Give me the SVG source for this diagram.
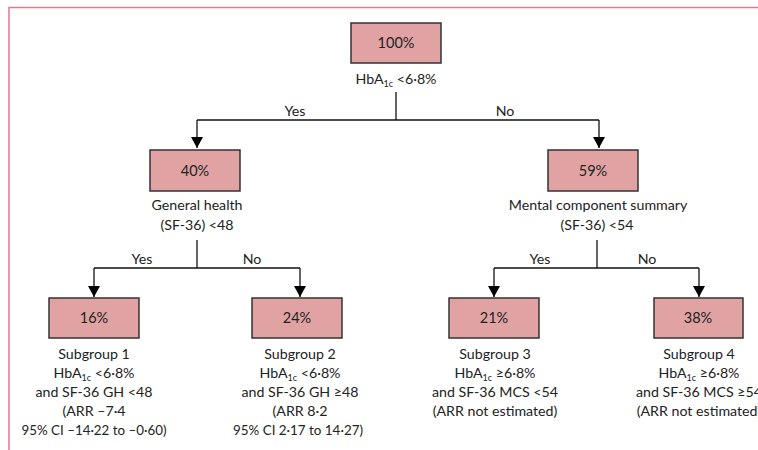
<svg xmlns="http://www.w3.org/2000/svg" width="758" height="450" viewBox="0 0 758 450">
<style>
text{font-family:Lato,"Open Sans","Liberation Sans",sans-serif;font-size:14.2px;fill:#222;text-anchor:middle}
.box{fill:#e0a2a2;stroke:#333;stroke-width:1.5}
.pct{font-size:14.5px}
.sub{font-size:9px}
.conn{fill:none;stroke:#111;stroke-width:1.3}
.frame{fill:none;stroke:#e07a8c;stroke-width:1.5}
</style>
<defs>
<marker id="ah" viewBox="0 0 11 12" refX="11" refY="6" markerWidth="11" markerHeight="12" markerUnits="userSpaceOnUse" orient="auto">
<path d="M0 0 L11 6 L0 12 Z" fill="#000"/>
</marker>
</defs>
<rect width="758" height="450" fill="#fff"/>
<path class="frame" d="M9 450 V7.5 H758"/>
<g id="connectors">
<path class="conn" d="M396 92 V120"/>
<path class="conn" d="M197 120 H599"/>
<path class="conn" d="M197 120 V148" marker-end="url(#ah)"/>
<path class="conn" d="M599 120 V148" marker-end="url(#ah)"/>
<path class="conn" d="M197 240 V268"/>
<path class="conn" d="M94 268 H300"/>
<path class="conn" d="M94 268 V297" marker-end="url(#ah)"/>
<path class="conn" d="M300 268 V297" marker-end="url(#ah)"/>
<path class="conn" d="M597 240 V268"/>
<path class="conn" d="M494 268 H699"/>
<path class="conn" d="M494 268 V297" marker-end="url(#ah)"/>
<path class="conn" d="M699 268 V297" marker-end="url(#ah)"/>
<text x="295" y="116">Yes</text>
<text x="505" y="116">No</text>
<text x="142" y="264">Yes</text>
<text x="252" y="264">No</text>
<text x="540" y="264">Yes</text>
<text x="647" y="264">No</text>
</g>
<g id="root">
<rect class="box" x="351" y="23" width="90" height="40"/>
<text class="pct" x="396" y="48">100%</text>
<text x="396" y="84">HbA<tspan class="sub" dy="2.5">1c</tspan><tspan dy="-2.5"> &lt;6·8%</tspan></text>
</g>
<g id="n40">
<rect class="box" x="150" y="150" width="90" height="41"/>
<text class="pct" x="195" y="176">40%</text>
<text x="197" y="210">General health</text>
<text x="197" y="230">(SF-36) &lt;48</text>
</g>
<g id="n59">
<rect class="box" x="548" y="150" width="90" height="41"/>
<text class="pct" x="593" y="176">59%</text>
<text x="598" y="210">Mental component summary</text>
<text x="597" y="230">(SF-36) &lt;54</text>
</g>
<g id="sg1">
<rect class="box" x="49" y="298" width="90" height="40"/>
<text class="pct" x="94" y="323">16%</text>
<text x="94" y="359">Subgroup 1</text>
<text x="94" y="378">HbA<tspan class="sub" dy="2.5">1c</tspan><tspan dy="-2.5"> &lt;6·8%</tspan></text>
<text x="94" y="397">and SF-36 GH &lt;48</text>
<text x="94" y="416">(ARR –7·4</text>
<text x="94" y="435" textLength="145" lengthAdjust="spacingAndGlyphs">95% CI –14·22 to –0·60)</text>
</g>
<g id="sg2">
<rect class="box" x="252" y="298" width="90" height="40"/>
<text class="pct" x="297" y="323">24%</text>
<text x="300" y="359">Subgroup 2</text>
<text x="300" y="378">HbA<tspan class="sub" dy="2.5">1c</tspan><tspan dy="-2.5"> &lt;6·8%</tspan></text>
<text x="300" y="397">and SF-36 GH ≥48</text>
<text x="300" y="416">(ARR 8·2</text>
<text x="298" y="435" textLength="130" lengthAdjust="spacingAndGlyphs">95% CI 2·17 to 14·27)</text>
</g>
<g id="sg3">
<rect class="box" x="449" y="298" width="90" height="40"/>
<text class="pct" x="494" y="323">21%</text>
<text x="495" y="359">Subgroup 3</text>
<text x="495" y="378">HbA<tspan class="sub" dy="2.5">1c</tspan><tspan dy="-2.5"> ≥6·8%</tspan></text>
<text x="495" y="397">and SF-36 MCS &lt;54</text>
<text x="495" y="416">(ARR not estimated)</text>
</g>
<g id="sg4">
<rect class="box" x="654" y="298" width="89" height="40"/>
<text class="pct" x="698" y="323">38%</text>
<text x="699" y="359">Subgroup 4</text>
<text x="699" y="378">HbA<tspan class="sub" dy="2.5">1c</tspan><tspan dy="-2.5"> ≥6·8%</tspan></text>
<text x="699" y="397">and SF-36 MCS ≥54</text>
<text x="699" y="416">(ARR not estimated)</text>
</g>
</svg>
